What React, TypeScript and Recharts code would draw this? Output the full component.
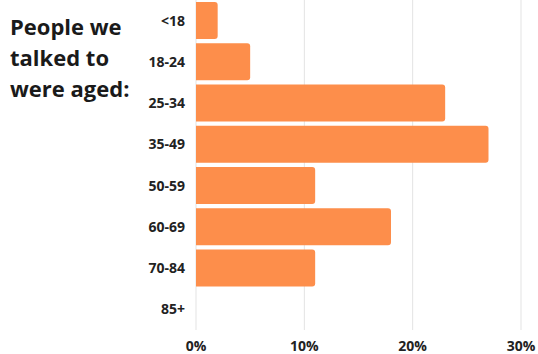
import { Bar, BarChart, CartesianGrid, XAxis, YAxis } from "recharts";

const ageGroups = ["<18", "18-24", "25-34", "35-49", "50-59", "60-69", "70-84", "85+"];
const shares = [2, 5, 23, 27, 11, 18, 11, 0];
const xTicks = [0, 10, 20, 30];

const data = ageGroups.map((age, i) => ({ age, share: shares[i] }));

const font = "'Open Sans', 'Noto Sans', sans-serif";

export default function App() {
    return (
        <div style={{ position: "absolute", left: 0, top: 0, width: 538, height: 354, background: "#fff", fontFamily: font }}>
            <div
                style={{
                    position: "absolute",
                    left: 10,
                    top: 11,
                    fontSize: 22,
                    lineHeight: "31px",
                    fontWeight: 700,
                    color: "#1a1a1a",
                }}
            >
                People we
                <br />
                talked to
                <br />
                were aged:
            </div>
            <BarChart
                width={538}
                height={354}
                data={data}
                layout="vertical"
                margin={{ top: 0, right: 17, left: 0, bottom: 0 }}
                barCategoryGap={2}
            >
                <CartesianGrid horizontal={false} stroke="#e3e3e3" />
                <XAxis
                    type="number"
                    domain={[0, 30]}
                    ticks={xTicks}
                    tickFormatter={(v: number) => `${v}%`}
                    axisLine={false}
                    tickLine={false}
                    tickMargin={5}
                    height={24}
                    interval={0}
                    tick={{ fill: "#222", fontSize: 14, fontWeight: 700, fontFamily: font }}
                />
                <YAxis
                    type="category"
                    dataKey="age"
                    width={196}
                    axisLine={false}
                    tickLine={false}
                    tickMargin={5}
                    interval={0}
                    tick={{ fill: "#222", fontSize: 14, fontWeight: 700, fontFamily: font }}
                />
                <Bar dataKey="share" fill="#fd8e4b" radius={[0, 3, 3, 0]} isAnimationActive={false} />
            </BarChart>
        </div>
    );
}
